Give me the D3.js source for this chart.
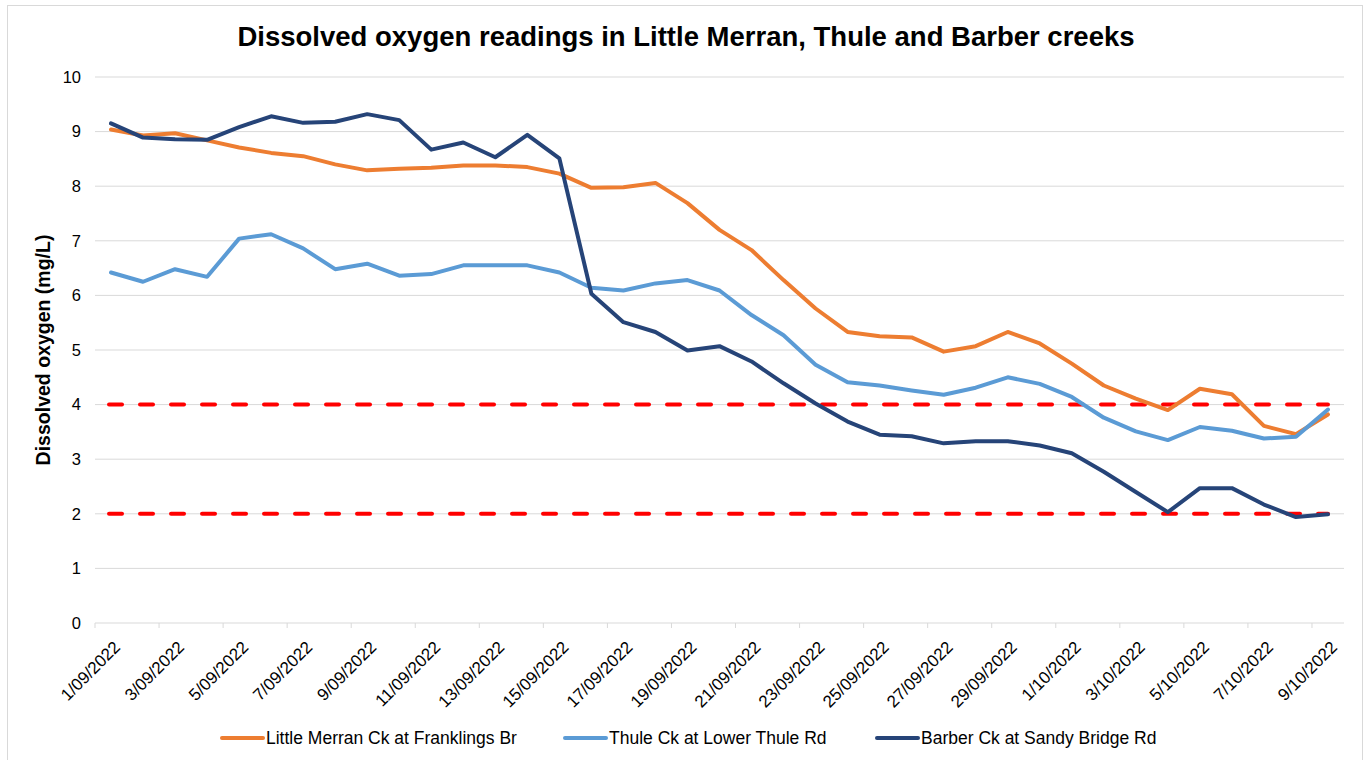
<!DOCTYPE html>
<html>
<head>
<meta charset="utf-8">
<script src="https://cdn.jsdelivr.net/npm/d3@7"></script>
<style>
  body { margin: 0; background: #fff; }
  text { font-family: Arial, "Liberation Sans", sans-serif; fill: #000; }
</style>
</head>
<body>
<script>
// Size of the whole chart
const w = 1369;
const h = 760;

// Categories (one reading per day)
const dates = [
  "1/09/2022", "2/09/2022", "3/09/2022", "4/09/2022", "5/09/2022", "6/09/2022",
  "7/09/2022", "8/09/2022", "9/09/2022", "10/09/2022", "11/09/2022", "12/09/2022",
  "13/09/2022", "14/09/2022", "15/09/2022", "16/09/2022", "17/09/2022", "18/09/2022",
  "19/09/2022", "20/09/2022", "21/09/2022", "22/09/2022", "23/09/2022", "24/09/2022",
  "25/09/2022", "26/09/2022", "27/09/2022", "28/09/2022", "29/09/2022", "30/09/2022",
  "1/10/2022", "2/10/2022", "3/10/2022", "4/10/2022", "5/10/2022", "6/10/2022",
  "7/10/2022", "8/10/2022", "9/10/2022",
];

// Series values (mg/L)
const littleMerran = [
  9.04, 8.93, 8.97, 8.84, 8.71, 8.61, 8.55, 8.40, 8.29, 8.32, 8.34, 8.38, 8.38,
  8.35, 8.23, 7.97, 7.98, 8.06, 7.69, 7.20, 6.83, 6.28, 5.76, 5.33, 5.25, 5.23,
  4.97, 5.07, 5.33, 5.12, 4.75, 4.35, 4.11, 3.90, 4.29, 4.19, 3.61, 3.46, 3.82,
];
const thule = [
  6.42, 6.25, 6.48, 6.34, 7.04, 7.12, 6.86, 6.48, 6.58, 6.36, 6.39, 6.55, 6.55,
  6.55, 6.42, 6.14, 6.09, 6.22, 6.28, 6.09, 5.64, 5.27, 4.73, 4.41, 4.35, 4.26,
  4.18, 4.31, 4.50, 4.38, 4.14, 3.76, 3.51, 3.35, 3.59, 3.52, 3.38, 3.41, 3.91,
];
const barber = [
  9.15, 8.89, 8.86, 8.85, 9.08, 9.28, 9.16, 9.18, 9.32, 9.21, 8.67, 8.80, 8.53,
  8.94, 8.51, 6.03, 5.51, 5.33, 4.99, 5.07, 4.79, 4.39, 4.02, 3.69, 3.45, 3.42,
  3.29, 3.33, 3.33, 3.25, 3.11, 2.77, 2.40, 2.03, 2.47, 2.47, 2.17, 1.94, 1.99,
];

// Guideline levels
const thresholds = [4, 2];

// Y axis ticks
const yTicks = [0, 1, 2, 3, 4, 5, 6, 7, 8, 9, 10];

const seriesNames = [
  "Little Merran Ck at Franklings Br",
  "Thule Ck at Lower Thule Rd",
  "Barber Ck at Sandy Bridge Rd",
];
const seriesColors = ["#ED7D31", "#5B9BD5", "#264478"];
const seriesValues = [littleMerran, thule, barber];

// Plot area
const plotLeft = 95, plotRight = 1344, plotTop = 77, plotBottom = 623;

const svg = d3.select("body").append("svg").attr("width", w).attr("height", h);

// Outer border (chart area, bottom edge falls outside the picture)
svg.append("rect")
  .attr("x", 7.5).attr("y", 5.5)
  .attr("width", 1355).attr("height", h + 10)
  .attr("fill", "#fff")
  .attr("stroke", "#d9d9d9");

const x = d3.scaleBand().domain(dates).range([plotLeft, plotRight]).padding(0);
const y = d3.scaleLinear().domain([0, 10]).range([plotBottom, plotTop]);
const cx = (d) => x(d) + x.bandwidth() / 2;

// Title
svg.append("text")
  .attr("x", 686).attr("y", 46)
  .attr("text-anchor", "middle")
  .style("font-size", "27.5px")
  .style("font-weight", "bold")
  .text("Dissolved oxygen readings in Little Merran, Thule and Barber creeks");

// Gridlines
svg.append("g")
  .selectAll("line")
  .data(yTicks.filter((d) => d > 0))
  .enter()
  .append("line")
  .attr("x1", plotLeft).attr("x2", plotRight)
  .attr("y1", (d) => y(d)).attr("y2", (d) => y(d))
  .attr("stroke", "#d9d9d9")
  .attr("stroke-width", 1);

// Y axis labels
svg.append("g")
  .selectAll("text")
  .data(yTicks)
  .enter()
  .append("text")
  .attr("x", 81)
  .attr("y", (d) => y(d))
  .attr("dy", "0.35em")
  .attr("text-anchor", "end")
  .style("font-size", "16.5px")
  .text((d) => d);

svg.append("text")
  .attr("transform", "translate(50," + (plotTop + plotBottom) / 2 + ") rotate(-90)")
  .attr("text-anchor", "middle")
  .style("font-size", "19.5px")
  .style("font-weight", "bold")
  .text("Dissolved oxygen (mg/L)");

// X axis line and ticks
svg.append("line")
  .attr("x1", plotLeft).attr("x2", plotRight)
  .attr("y1", y(0)).attr("y2", y(0))
  .attr("stroke", "#d9d9d9")
  .attr("stroke-width", 1);

const evenDates = dates.filter((d, i) => i % 2 === 0);

svg.append("g")
  .selectAll("line")
  .data(evenDates)
  .enter()
  .append("line")
  .attr("x1", (d) => x(d)).attr("x2", (d) => x(d))
  .attr("y1", y(0)).attr("y2", y(0) + 5)
  .attr("stroke", "#d9d9d9");

svg.append("g")
  .selectAll("text")
  .data(evenDates)
  .enter()
  .append("text")
  .attr("transform", (d) => "translate(" + (cx(d) + 6) + "," + (y(0) + 21) + ") rotate(-45)")
  .attr("text-anchor", "end")
  .attr("dy", "0.35em")
  .style("font-size", "17px")
  .text((d) => d);

// Red guideline series
svg.append("g")
  .selectAll("line")
  .data(thresholds)
  .enter()
  .append("line")
  .attr("x1", cx(dates[0]) - 2)
  .attr("x2", cx(dates[dates.length - 1]))
  .attr("y1", (d) => y(d)).attr("y2", (d) => y(d))
  .attr("stroke", "#FF0000")
  .attr("stroke-width", 4)
  .attr("stroke-dasharray", "13,18")
  .attr("stroke-linecap", "round");

// Data lines
const line = d3.line()
  .x((d, i) => cx(dates[i]))
  .y((d) => y(d));

svg.append("g")
  .selectAll("path")
  .data(seriesValues)
  .enter()
  .append("path")
  .attr("d", (d) => line(d))
  .attr("fill", "none")
  .attr("stroke", (d, i) => seriesColors[i])
  .attr("stroke-width", 4)
  .attr("stroke-linejoin", "round")
  .attr("stroke-linecap", "round");

// Legend
const legendY = 738;
const legendStarts = [222, 565, 877];

const legend = svg.append("g")
  .selectAll("g")
  .data(seriesNames)
  .enter()
  .append("g")
  .attr("transform", (d, i) => "translate(" + legendStarts[i] + "," + legendY + ")");

legend.append("line")
  .attr("x1", 0).attr("x2", 41)
  .attr("y1", 0).attr("y2", 0)
  .attr("stroke", (d, i) => seriesColors[i])
  .attr("stroke-width", 4)
  .attr("stroke-linecap", "round");

legend.append("text")
  .attr("x", 44)
  .attr("dy", "0.35em")
  .style("font-size", "17.5px")
  .text((d) => d);
</script>
</body>
</html>
